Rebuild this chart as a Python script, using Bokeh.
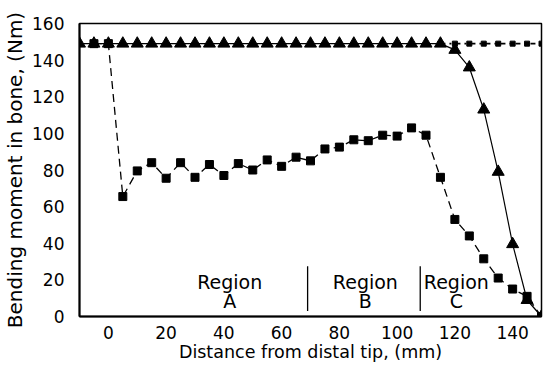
from bokeh.plotting import figure
from bokeh.models import Range1d, FixedTicker
from bokeh.core.properties import value
from bokeh.embed import file_html
from bokeh.resources import INLINE

# Applied / transmitted bending moment (triangles, solid)
tri_x = [-10, -5, 0, 5, 10, 15, 20, 25, 30, 35, 40, 45, 50, 55, 60, 65, 70, 75,
         80, 85, 90, 95, 100, 105, 110, 115, 120, 125, 130, 135, 140, 145, 150]
tri_y = [149, 149, 149, 149, 149, 149, 149, 149, 149, 149, 149, 149, 149, 149,
         149, 149, 149, 149, 149, 149, 149, 149, 149, 149, 149, 149,
         145.6, 136, 113, 79, 39.5, 9, 0]

# Bending moment in bone (squares, dashed)
sq_x = [-5, 0, 5, 10, 15, 20, 25, 30, 35, 40, 45, 50, 55, 60, 65, 70, 75, 80,
        85, 90, 95, 100, 105, 110, 115, 120, 125, 130, 135, 140, 145, 150]
sq_y = [149, 149, 65.5, 79.5, 84, 75.5, 84, 76, 83, 77, 83.5, 80, 85.5, 82, 87,
        85, 91.5, 92.5, 96.5, 96, 99, 98.5, 103, 99, 76, 53, 44, 31.5, 21, 15,
        11, 0]

# Constant reference series (small squares, dash-dot)
ref_x = [115, 120, 125, 130, 135, 140, 145, 150]
ref_y = [149, 149, 149, 149, 149, 149, 149, 149]

# Region annotations
region_names = ["Region", "Region", "Region"]
region_letters = ["A", "B", "C"]
region_x = [42, 89, 120.5]
region_y1 = [19, 19, 19]
region_y2 = [8.5, 8.5, 8.5]
sep_x = [69, 108]
sep_y0 = [3, 3]
sep_y1 = [27.5, 27.5]

x_ticks = [0, 20, 40, 60, 80, 100, 120, 140]
y_ticks = [0, 20, 40, 60, 80, 100, 120, 140, 160]

FONT = "DejaVu Sans"

p = figure(width=543, height=364, output_backend="svg", toolbar_location=None,
           x_range=Range1d(-10, 150), y_range=Range1d(0, 160),
           min_border_left=77, min_border_right=2, min_border_top=23,
           min_border_bottom=40)
p.background_fill_color = "white"
p.border_fill_color = "white"
p.outline_line_color = "black"
p.outline_line_width = 1.5
p.xgrid.visible = False
p.ygrid.visible = False

for ax in (p.xaxis[0], p.yaxis[0]):
    ax.axis_line_width = 2
    ax.axis_line_color = "black"
    ax.major_tick_line_color = None
    ax.minor_tick_line_color = None
    ax.major_label_text_font = FONT
    ax.major_label_text_font_size = "17px"
    ax.major_label_text_color = "black"
    ax.axis_label_text_font = FONT
    ax.axis_label_text_font_style = "normal"
    ax.axis_label_text_color = "black"

p.xaxis.ticker = FixedTicker(ticks=x_ticks)
p.yaxis.ticker = FixedTicker(ticks=y_ticks)
p.xaxis.axis_label = "Distance from distal tip, (mm)"
p.yaxis.axis_label = "Bending moment in bone, (Nm)"
p.xaxis.axis_label_text_font_size = "17.5px"
p.yaxis.axis_label_text_font_size = "20px"
p.xaxis.major_label_standoff = 3
p.yaxis.major_label_standoff = 9
p.xaxis.axis_label_standoff = 0
p.yaxis.axis_label_standoff = 2

# triangles series
p.line(tri_x, tri_y, line_color="black", line_width=1.2)
p.scatter(tri_x, tri_y, marker="triangle", size=12, fill_color="black",
          line_color="black")

# reference dash-dot series
p.line(ref_x, ref_y, line_color="black", line_width=1.6, line_dash="5 4 2 4")
p.scatter(ref_x, ref_y, marker="square", size=5, fill_color="black",
          line_color="black")

# squares series
p.line(sq_x, sq_y, line_color="black", line_width=1.3, line_dash="8 5")
p.scatter(sq_x, sq_y, marker="square", size=8, fill_color="black",
          line_color="black")

# region separators and labels
p.segment(x0=sep_x, y0=sep_y0, x1=sep_x, y1=sep_y1, line_color="black",
          line_width=1.3)
p.text(x=region_x, y=region_y1, text=region_names, text_align="center",
       text_baseline="middle", text_font=value(FONT), text_font_size="19px",
       text_color="black")
p.text(x=region_x, y=region_y2, text=region_letters, text_align="center",
       text_baseline="middle", text_font=value(FONT), text_font_size="19px",
       text_color="black")

open("out.html", "w").write(file_html(p, INLINE))
